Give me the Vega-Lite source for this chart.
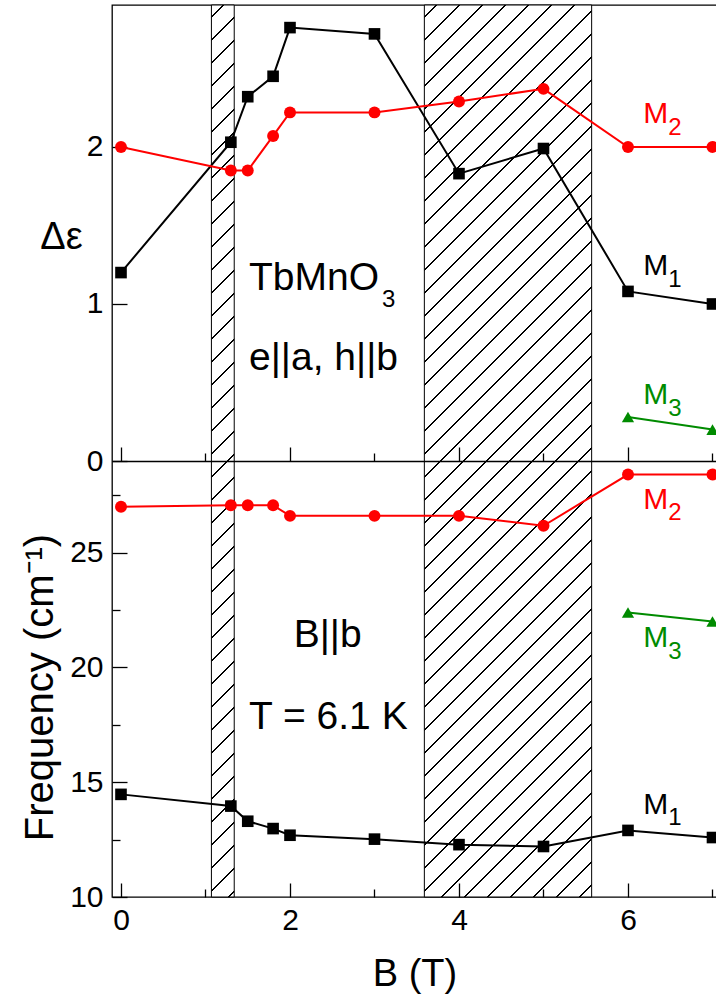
{
  "$schema": "https://vega.github.io/schema/vega-lite/v6.json",
  "autosize": "none",
  "padding": {"left": 112, "top": 5, "right": -1, "bottom": 99},
  "width": 605,
  "height": 892,
  "background": "white",
  "config": {
    "view": {"stroke": "black", "strokeWidth": 1.3},
    "axis": {"grid": false, "domain": false, "zindex": 1, "tickColor": "black", "tickWidth": 1.3, "labelFont": "Liberation Sans", "labelFontSize": 30, "labelColor": "black", "titleFont": "Liberation Sans", "titleFontSize": 38, "titleFontWeight": "normal", "titleColor": "black"},
    "text": {"font": "Liberation Sans"}
  },
  "resolve": {"scale": {"y": "independent"}, "axis": {"x": "independent", "y": "independent"}},
  "datasets": {
    "pts": [
      {"panel": "eps", "mode": "M1", "B": 0, "value": 1.20},
      {"panel": "eps", "mode": "M1", "B": 1.3, "value": 2.03},
      {"panel": "eps", "mode": "M1", "B": 1.5, "value": 2.32},
      {"panel": "eps", "mode": "M1", "B": 1.8, "value": 2.45},
      {"panel": "eps", "mode": "M1", "B": 2, "value": 2.76},
      {"panel": "eps", "mode": "M1", "B": 3, "value": 2.72},
      {"panel": "eps", "mode": "M1", "B": 4, "value": 1.83},
      {"panel": "eps", "mode": "M1", "B": 5, "value": 1.99},
      {"panel": "eps", "mode": "M1", "B": 6, "value": 1.08},
      {"panel": "eps", "mode": "M1", "B": 7, "value": 1.00},
      {"panel": "eps", "mode": "M2", "B": 0, "value": 2.00},
      {"panel": "eps", "mode": "M2", "B": 1.3, "value": 1.85},
      {"panel": "eps", "mode": "M2", "B": 1.5, "value": 1.85},
      {"panel": "eps", "mode": "M2", "B": 1.8, "value": 2.07},
      {"panel": "eps", "mode": "M2", "B": 2, "value": 2.22},
      {"panel": "eps", "mode": "M2", "B": 3, "value": 2.22},
      {"panel": "eps", "mode": "M2", "B": 4, "value": 2.29},
      {"panel": "eps", "mode": "M2", "B": 5, "value": 2.37},
      {"panel": "eps", "mode": "M2", "B": 6, "value": 2.00},
      {"panel": "eps", "mode": "M2", "B": 7, "value": 2.00},
      {"panel": "eps", "mode": "M3", "B": 6, "value": 0.28},
      {"panel": "eps", "mode": "M3", "B": 7, "value": 0.20},
      {"panel": "freq", "mode": "M1", "B": 0, "value": 14.47},
      {"panel": "freq", "mode": "M1", "B": 1.3, "value": 13.96},
      {"panel": "freq", "mode": "M1", "B": 1.5, "value": 13.30},
      {"panel": "freq", "mode": "M1", "B": 1.8, "value": 12.98},
      {"panel": "freq", "mode": "M1", "B": 2, "value": 12.69},
      {"panel": "freq", "mode": "M1", "B": 3, "value": 12.52},
      {"panel": "freq", "mode": "M1", "B": 4, "value": 12.28},
      {"panel": "freq", "mode": "M1", "B": 5, "value": 12.20},
      {"panel": "freq", "mode": "M1", "B": 6, "value": 12.90},
      {"panel": "freq", "mode": "M1", "B": 7, "value": 12.59},
      {"panel": "freq", "mode": "M2", "B": 0, "value": 27.00},
      {"panel": "freq", "mode": "M2", "B": 1.3, "value": 27.06},
      {"panel": "freq", "mode": "M2", "B": 1.5, "value": 27.06},
      {"panel": "freq", "mode": "M2", "B": 1.8, "value": 27.06},
      {"panel": "freq", "mode": "M2", "B": 2, "value": 26.60},
      {"panel": "freq", "mode": "M2", "B": 3, "value": 26.60},
      {"panel": "freq", "mode": "M2", "B": 4, "value": 26.60},
      {"panel": "freq", "mode": "M2", "B": 5, "value": 26.17},
      {"panel": "freq", "mode": "M2", "B": 6, "value": 28.40},
      {"panel": "freq", "mode": "M2", "B": 7, "value": 28.40},
      {"panel": "freq", "mode": "M3", "B": 6, "value": 22.39},
      {"panel": "freq", "mode": "M3", "B": 7, "value": 22.00}
    ],
    "regions": [
      {"zone": "narrow", "start": 1.07, "end": 1.34},
      {"zone": "wide", "start": 3.59, "end": 5.57}
    ],
    "notes": [
      {"panel": "eps", "kind": "big", "mode": "note", "B": 1.515, "value": 1.089, "text": "TbMnO"},
      {"panel": "eps", "kind": "sub", "mode": "note", "B": 3.089, "value": 0.981, "text": "3"},
      {"panel": "eps", "kind": "big", "mode": "note", "B": 1.515, "value": 0.580, "text": "e||a, h||b"},
      {"panel": "eps", "kind": "m", "mode": "M2", "B": 6.181, "value": 2.151, "text": "M"},
      {"panel": "eps", "kind": "sub", "mode": "M2", "B": 6.475, "value": 2.076, "text": "2"},
      {"panel": "eps", "kind": "m", "mode": "M1", "B": 6.181, "value": 1.185, "text": "M"},
      {"panel": "eps", "kind": "sub", "mode": "M1", "B": 6.475, "value": 1.110, "text": "1"},
      {"panel": "eps", "kind": "m", "mode": "M3", "B": 6.181, "value": 0.363, "text": "M"},
      {"panel": "eps", "kind": "sub", "mode": "M3", "B": 6.475, "value": 0.287, "text": "3"},
      {"panel": "freq", "kind": "big", "mode": "note", "B": 2.044, "value": 20.89, "text": "B||b"},
      {"panel": "freq", "kind": "big", "mode": "note", "B": 1.515, "value": 17.33, "text": "T = 6.1 K"},
      {"panel": "freq", "kind": "m", "mode": "M2", "B": 6.181, "value": 26.92, "text": "M"},
      {"panel": "freq", "kind": "sub", "mode": "M2", "B": 6.475, "value": 26.41, "text": "2"},
      {"panel": "freq", "kind": "m", "mode": "M3", "B": 6.181, "value": 20.89, "text": "M"},
      {"panel": "freq", "kind": "sub", "mode": "M3", "B": 6.475, "value": 20.38, "text": "3"},
      {"panel": "freq", "kind": "m", "mode": "M1", "B": 6.181, "value": 13.63, "text": "M"},
      {"panel": "freq", "kind": "sub", "mode": "M1", "B": 6.475, "value": 13.12, "text": "1"}
    ]
  },
  "layer": [
    {
      "data": {"name": "regions"},
      "transform": [{"filter": "datum.zone === 'narrow'"}],
      "mark": {"type": "rect", "stroke": "black", "strokeWidth": 1, "fill": {"gradient": "linear", "x1": 0, "y1": 0, "x2": 0.03293, "y2": 1.2884, "stops": [{"offset":0.01,"color":"#fff"},{"offset":0.01,"color":"#000"},{"offset":0.0115,"color":"#000"},{"offset":0.0115,"color":"#fff"},{"offset":0.03,"color":"#fff"},{"offset":0.03,"color":"#000"},{"offset":0.0315,"color":"#000"},{"offset":0.0315,"color":"#fff"},{"offset":0.05,"color":"#fff"},{"offset":0.05,"color":"#000"},{"offset":0.0515,"color":"#000"},{"offset":0.0515,"color":"#fff"},{"offset":0.07,"color":"#fff"},{"offset":0.07,"color":"#000"},{"offset":0.0715,"color":"#000"},{"offset":0.0715,"color":"#fff"},{"offset":0.09,"color":"#fff"},{"offset":0.09,"color":"#000"},{"offset":0.0915,"color":"#000"},{"offset":0.0915,"color":"#fff"},{"offset":0.11,"color":"#fff"},{"offset":0.11,"color":"#000"},{"offset":0.1115,"color":"#000"},{"offset":0.1115,"color":"#fff"},{"offset":0.13,"color":"#fff"},{"offset":0.13,"color":"#000"},{"offset":0.1315,"color":"#000"},{"offset":0.1315,"color":"#fff"},{"offset":0.15,"color":"#fff"},{"offset":0.15,"color":"#000"},{"offset":0.1515,"color":"#000"},{"offset":0.1515,"color":"#fff"},{"offset":0.17,"color":"#fff"},{"offset":0.17,"color":"#000"},{"offset":0.1715,"color":"#000"},{"offset":0.1715,"color":"#fff"},{"offset":0.19,"color":"#fff"},{"offset":0.19,"color":"#000"},{"offset":0.1915,"color":"#000"},{"offset":0.1915,"color":"#fff"},{"offset":0.21,"color":"#fff"},{"offset":0.21,"color":"#000"},{"offset":0.2115,"color":"#000"},{"offset":0.2115,"color":"#fff"},{"offset":0.23,"color":"#fff"},{"offset":0.23,"color":"#000"},{"offset":0.2315,"color":"#000"},{"offset":0.2315,"color":"#fff"},{"offset":0.25,"color":"#fff"},{"offset":0.25,"color":"#000"},{"offset":0.2515,"color":"#000"},{"offset":0.2515,"color":"#fff"},{"offset":0.27,"color":"#fff"},{"offset":0.27,"color":"#000"},{"offset":0.2715,"color":"#000"},{"offset":0.2715,"color":"#fff"},{"offset":0.29,"color":"#fff"},{"offset":0.29,"color":"#000"},{"offset":0.2915,"color":"#000"},{"offset":0.2915,"color":"#fff"},{"offset":0.31,"color":"#fff"},{"offset":0.31,"color":"#000"},{"offset":0.3115,"color":"#000"},{"offset":0.3115,"color":"#fff"},{"offset":0.33,"color":"#fff"},{"offset":0.33,"color":"#000"},{"offset":0.3315,"color":"#000"},{"offset":0.3315,"color":"#fff"},{"offset":0.35,"color":"#fff"},{"offset":0.35,"color":"#000"},{"offset":0.3515,"color":"#000"},{"offset":0.3515,"color":"#fff"},{"offset":0.37,"color":"#fff"},{"offset":0.37,"color":"#000"},{"offset":0.3715,"color":"#000"},{"offset":0.3715,"color":"#fff"},{"offset":0.39,"color":"#fff"},{"offset":0.39,"color":"#000"},{"offset":0.3915,"color":"#000"},{"offset":0.3915,"color":"#fff"},{"offset":0.41,"color":"#fff"},{"offset":0.41,"color":"#000"},{"offset":0.4115,"color":"#000"},{"offset":0.4115,"color":"#fff"},{"offset":0.43,"color":"#fff"},{"offset":0.43,"color":"#000"},{"offset":0.4315,"color":"#000"},{"offset":0.4315,"color":"#fff"},{"offset":0.45,"color":"#fff"},{"offset":0.45,"color":"#000"},{"offset":0.4515,"color":"#000"},{"offset":0.4515,"color":"#fff"},{"offset":0.47,"color":"#fff"},{"offset":0.47,"color":"#000"},{"offset":0.4715,"color":"#000"},{"offset":0.4715,"color":"#fff"},{"offset":0.49,"color":"#fff"},{"offset":0.49,"color":"#000"},{"offset":0.4915,"color":"#000"},{"offset":0.4915,"color":"#fff"},{"offset":0.51,"color":"#fff"},{"offset":0.51,"color":"#000"},{"offset":0.5115,"color":"#000"},{"offset":0.5115,"color":"#fff"},{"offset":0.53,"color":"#fff"},{"offset":0.53,"color":"#000"},{"offset":0.5315,"color":"#000"},{"offset":0.5315,"color":"#fff"},{"offset":0.55,"color":"#fff"},{"offset":0.55,"color":"#000"},{"offset":0.5515,"color":"#000"},{"offset":0.5515,"color":"#fff"},{"offset":0.57,"color":"#fff"},{"offset":0.57,"color":"#000"},{"offset":0.5715,"color":"#000"},{"offset":0.5715,"color":"#fff"},{"offset":0.59,"color":"#fff"},{"offset":0.59,"color":"#000"},{"offset":0.5915,"color":"#000"},{"offset":0.5915,"color":"#fff"},{"offset":0.61,"color":"#fff"},{"offset":0.61,"color":"#000"},{"offset":0.6115,"color":"#000"},{"offset":0.6115,"color":"#fff"},{"offset":0.63,"color":"#fff"},{"offset":0.63,"color":"#000"},{"offset":0.6315,"color":"#000"},{"offset":0.6315,"color":"#fff"},{"offset":0.65,"color":"#fff"},{"offset":0.65,"color":"#000"},{"offset":0.6515,"color":"#000"},{"offset":0.6515,"color":"#fff"},{"offset":0.67,"color":"#fff"},{"offset":0.67,"color":"#000"},{"offset":0.6715,"color":"#000"},{"offset":0.6715,"color":"#fff"},{"offset":0.69,"color":"#fff"},{"offset":0.69,"color":"#000"},{"offset":0.6915,"color":"#000"},{"offset":0.6915,"color":"#fff"},{"offset":0.71,"color":"#fff"},{"offset":0.71,"color":"#000"},{"offset":0.7115,"color":"#000"},{"offset":0.7115,"color":"#fff"},{"offset":0.73,"color":"#fff"},{"offset":0.73,"color":"#000"},{"offset":0.7315,"color":"#000"},{"offset":0.7315,"color":"#fff"},{"offset":0.75,"color":"#fff"},{"offset":0.75,"color":"#000"},{"offset":0.7515,"color":"#000"},{"offset":0.7515,"color":"#fff"},{"offset":0.77,"color":"#fff"},{"offset":0.77,"color":"#000"},{"offset":0.7715,"color":"#000"},{"offset":0.7715,"color":"#fff"},{"offset":0.79,"color":"#fff"},{"offset":0.79,"color":"#000"},{"offset":0.7915,"color":"#000"},{"offset":0.7915,"color":"#fff"}]}},
      "encoding": {
        "x": {"field": "start", "type": "quantitative", "scale": {"domain": [-0.1065, 7.0534], "nice": false, "zero": false},
          "axis": {"orient": "bottom", "zindex": 2, "values": [0, 1, 2, 3, 4, 5, 6, 7], "format": "d", "labelExpr": "datum.value % 2 === 0 ? datum.label : ''", "labelPadding": 22, "tickSize": {"condition": {"test": "datum.value % 2 === 0", "value": -14}, "value": -8}, "title": "B (T)", "titleY": 88, "titleBaseline": "alphabetic"}},
        "x2": {"field": "end"}
      }
    },
    {
      "data": {"name": "regions"},
      "transform": [{"filter": "datum.zone === 'wide'"}],
      "mark": {"type": "rect", "stroke": "black", "strokeWidth": 1, "fill": {"gradient": "linear", "x1": 0, "y1": 0, "x2": 0.23359, "y2": 1.24541, "stops": [{"offset":0.01,"color":"#fff"},{"offset":0.01,"color":"#000"},{"offset":0.0115,"color":"#000"},{"offset":0.0115,"color":"#fff"},{"offset":0.03,"color":"#fff"},{"offset":0.03,"color":"#000"},{"offset":0.0315,"color":"#000"},{"offset":0.0315,"color":"#fff"},{"offset":0.05,"color":"#fff"},{"offset":0.05,"color":"#000"},{"offset":0.0515,"color":"#000"},{"offset":0.0515,"color":"#fff"},{"offset":0.07,"color":"#fff"},{"offset":0.07,"color":"#000"},{"offset":0.0715,"color":"#000"},{"offset":0.0715,"color":"#fff"},{"offset":0.09,"color":"#fff"},{"offset":0.09,"color":"#000"},{"offset":0.0915,"color":"#000"},{"offset":0.0915,"color":"#fff"},{"offset":0.11,"color":"#fff"},{"offset":0.11,"color":"#000"},{"offset":0.1115,"color":"#000"},{"offset":0.1115,"color":"#fff"},{"offset":0.13,"color":"#fff"},{"offset":0.13,"color":"#000"},{"offset":0.1315,"color":"#000"},{"offset":0.1315,"color":"#fff"},{"offset":0.15,"color":"#fff"},{"offset":0.15,"color":"#000"},{"offset":0.1515,"color":"#000"},{"offset":0.1515,"color":"#fff"},{"offset":0.17,"color":"#fff"},{"offset":0.17,"color":"#000"},{"offset":0.1715,"color":"#000"},{"offset":0.1715,"color":"#fff"},{"offset":0.19,"color":"#fff"},{"offset":0.19,"color":"#000"},{"offset":0.1915,"color":"#000"},{"offset":0.1915,"color":"#fff"},{"offset":0.21,"color":"#fff"},{"offset":0.21,"color":"#000"},{"offset":0.2115,"color":"#000"},{"offset":0.2115,"color":"#fff"},{"offset":0.23,"color":"#fff"},{"offset":0.23,"color":"#000"},{"offset":0.2315,"color":"#000"},{"offset":0.2315,"color":"#fff"},{"offset":0.25,"color":"#fff"},{"offset":0.25,"color":"#000"},{"offset":0.2515,"color":"#000"},{"offset":0.2515,"color":"#fff"},{"offset":0.27,"color":"#fff"},{"offset":0.27,"color":"#000"},{"offset":0.2715,"color":"#000"},{"offset":0.2715,"color":"#fff"},{"offset":0.29,"color":"#fff"},{"offset":0.29,"color":"#000"},{"offset":0.2915,"color":"#000"},{"offset":0.2915,"color":"#fff"},{"offset":0.31,"color":"#fff"},{"offset":0.31,"color":"#000"},{"offset":0.3115,"color":"#000"},{"offset":0.3115,"color":"#fff"},{"offset":0.33,"color":"#fff"},{"offset":0.33,"color":"#000"},{"offset":0.3315,"color":"#000"},{"offset":0.3315,"color":"#fff"},{"offset":0.35,"color":"#fff"},{"offset":0.35,"color":"#000"},{"offset":0.3515,"color":"#000"},{"offset":0.3515,"color":"#fff"},{"offset":0.37,"color":"#fff"},{"offset":0.37,"color":"#000"},{"offset":0.3715,"color":"#000"},{"offset":0.3715,"color":"#fff"},{"offset":0.39,"color":"#fff"},{"offset":0.39,"color":"#000"},{"offset":0.3915,"color":"#000"},{"offset":0.3915,"color":"#fff"},{"offset":0.41,"color":"#fff"},{"offset":0.41,"color":"#000"},{"offset":0.4115,"color":"#000"},{"offset":0.4115,"color":"#fff"},{"offset":0.43,"color":"#fff"},{"offset":0.43,"color":"#000"},{"offset":0.4315,"color":"#000"},{"offset":0.4315,"color":"#fff"},{"offset":0.45,"color":"#fff"},{"offset":0.45,"color":"#000"},{"offset":0.4515,"color":"#000"},{"offset":0.4515,"color":"#fff"},{"offset":0.47,"color":"#fff"},{"offset":0.47,"color":"#000"},{"offset":0.4715,"color":"#000"},{"offset":0.4715,"color":"#fff"},{"offset":0.49,"color":"#fff"},{"offset":0.49,"color":"#000"},{"offset":0.4915,"color":"#000"},{"offset":0.4915,"color":"#fff"},{"offset":0.51,"color":"#fff"},{"offset":0.51,"color":"#000"},{"offset":0.5115,"color":"#000"},{"offset":0.5115,"color":"#fff"},{"offset":0.53,"color":"#fff"},{"offset":0.53,"color":"#000"},{"offset":0.5315,"color":"#000"},{"offset":0.5315,"color":"#fff"},{"offset":0.55,"color":"#fff"},{"offset":0.55,"color":"#000"},{"offset":0.5515,"color":"#000"},{"offset":0.5515,"color":"#fff"},{"offset":0.57,"color":"#fff"},{"offset":0.57,"color":"#000"},{"offset":0.5715,"color":"#000"},{"offset":0.5715,"color":"#fff"},{"offset":0.59,"color":"#fff"},{"offset":0.59,"color":"#000"},{"offset":0.5915,"color":"#000"},{"offset":0.5915,"color":"#fff"},{"offset":0.61,"color":"#fff"},{"offset":0.61,"color":"#000"},{"offset":0.6115,"color":"#000"},{"offset":0.6115,"color":"#fff"},{"offset":0.63,"color":"#fff"},{"offset":0.63,"color":"#000"},{"offset":0.6315,"color":"#000"},{"offset":0.6315,"color":"#fff"},{"offset":0.65,"color":"#fff"},{"offset":0.65,"color":"#000"},{"offset":0.6515,"color":"#000"},{"offset":0.6515,"color":"#fff"},{"offset":0.67,"color":"#fff"},{"offset":0.67,"color":"#000"},{"offset":0.6715,"color":"#000"},{"offset":0.6715,"color":"#fff"},{"offset":0.69,"color":"#fff"},{"offset":0.69,"color":"#000"},{"offset":0.6915,"color":"#000"},{"offset":0.6915,"color":"#fff"},{"offset":0.71,"color":"#fff"},{"offset":0.71,"color":"#000"},{"offset":0.7115,"color":"#000"},{"offset":0.7115,"color":"#fff"},{"offset":0.73,"color":"#fff"},{"offset":0.73,"color":"#000"},{"offset":0.7315,"color":"#000"},{"offset":0.7315,"color":"#fff"},{"offset":0.75,"color":"#fff"},{"offset":0.75,"color":"#000"},{"offset":0.7515,"color":"#000"},{"offset":0.7515,"color":"#fff"},{"offset":0.77,"color":"#fff"},{"offset":0.77,"color":"#000"},{"offset":0.7715,"color":"#000"},{"offset":0.7715,"color":"#fff"},{"offset":0.79,"color":"#fff"},{"offset":0.79,"color":"#000"},{"offset":0.7915,"color":"#000"},{"offset":0.7915,"color":"#fff"},{"offset":0.81,"color":"#fff"},{"offset":0.81,"color":"#000"},{"offset":0.8115,"color":"#000"},{"offset":0.8115,"color":"#fff"},{"offset":0.83,"color":"#fff"},{"offset":0.83,"color":"#000"},{"offset":0.8315,"color":"#000"},{"offset":0.8315,"color":"#fff"},{"offset":0.85,"color":"#fff"},{"offset":0.85,"color":"#000"},{"offset":0.8515,"color":"#000"},{"offset":0.8515,"color":"#fff"},{"offset":0.87,"color":"#fff"},{"offset":0.87,"color":"#000"},{"offset":0.8715,"color":"#000"},{"offset":0.8715,"color":"#fff"},{"offset":0.89,"color":"#fff"},{"offset":0.89,"color":"#000"},{"offset":0.8915,"color":"#000"},{"offset":0.8915,"color":"#fff"},{"offset":0.91,"color":"#fff"},{"offset":0.91,"color":"#000"},{"offset":0.9115,"color":"#000"},{"offset":0.9115,"color":"#fff"}]}},
      "encoding": {
        "x": {"field": "start", "type": "quantitative", "scale": {"domain": [-0.1065, 7.0534], "nice": false, "zero": false},
          "axis": {"orient": "bottom", "zindex": 2, "offset": -436, "values": [0, 1, 2, 3, 4, 5, 6, 7], "labels": false, "title": null, "domain": true, "domainColor": "black", "domainWidth": 1.3, "tickSize": {"condition": {"test": "datum.value % 2 === 0", "value": -14}, "value": -8}}},
        "x2": {"field": "end"}
      }
    },
    {
      "data": {"name": "pts"},
      "transform": [{"filter": "datum.panel === 'eps'"}],
      "mark": {"type": "line", "strokeWidth": 2},
      "encoding": {
        "x": {"field": "B", "type": "quantitative", "scale": {"domain": [-0.1065, 7.0534], "nice": false, "zero": false}, "axis": null},
        "y": {"field": "value", "type": "quantitative", "scale": {"domain": [0, 2.904], "range": [456, 0], "nice": false, "zero": false},
          "axis": {"orient": "left", "values": [0, 0.5, 1, 1.5, 2, 2.5], "format": "d", "labelExpr": "datum.value % 1 === 0 ? datum.label : ''", "tickSize": {"condition": {"test": "datum.value % 1 === 0", "value": -15}, "value": -8}, "labelPadding": 24, "title": "Δε", "titleAngle": 0, "titleX": -51, "titleY": 232, "titleAlign": "center", "titleBaseline": "middle", "titleFontSize": 38}},
        "color": {"field": "mode", "type": "nominal", "scale": {"domain": ["M1", "M2", "M3", "note"], "range": ["#000000", "#ff0000", "#008b00", "#000000"]}, "legend": null}
      }
    },
    {
      "data": {"name": "pts"},
      "transform": [{"filter": "datum.panel === 'eps'"}],
      "mark": {"type": "point", "filled": true, "opacity": 1, "strokeWidth": 0},
      "encoding": {
        "x": {"field": "B", "type": "quantitative", "scale": {"domain": [-0.1065, 7.0534], "nice": false, "zero": false}, "axis": null},
        "y": {"field": "value", "type": "quantitative", "scale": {"domain": [0, 2.904], "range": [456, 0], "nice": false, "zero": false}, "axis": null},
        "color": {"field": "mode", "type": "nominal", "legend": null},
        "shape": {"field": "mode", "type": "nominal", "scale": {"domain": ["M1", "M2", "M3"], "range": ["square", "circle", "triangle-up"]}, "legend": null},
        "size": {"field": "mode", "type": "ordinal", "scale": {"domain": ["M1", "M2", "M3"], "range": [135, 150, 150]}, "legend": null}
      }
    },
    {
      "data": {"name": "notes"},
      "transform": [{"filter": "datum.panel === 'eps' && datum.kind === 'big'"}],
      "mark": {"type": "text", "fontSize": 39, "align": "left", "baseline": "alphabetic"},
      "encoding": {
        "x": {"field": "B", "type": "quantitative", "scale": {"domain": [-0.1065, 7.0534], "nice": false, "zero": false}, "axis": null},
        "y": {"field": "value", "type": "quantitative", "scale": {"domain": [0, 2.904], "range": [456, 0], "nice": false, "zero": false}, "axis": null},
        "text": {"field": "text"},
        "color": {"field": "mode", "type": "nominal", "legend": null}
      }
    },
    {
      "data": {"name": "notes"},
      "transform": [{"filter": "datum.panel === 'eps' && datum.kind === 'm'"}],
      "mark": {"type": "text", "fontSize": 30, "align": "left", "baseline": "alphabetic"},
      "encoding": {
        "x": {"field": "B", "type": "quantitative", "scale": {"domain": [-0.1065, 7.0534], "nice": false, "zero": false}, "axis": null},
        "y": {"field": "value", "type": "quantitative", "scale": {"domain": [0, 2.904], "range": [456, 0], "nice": false, "zero": false}, "axis": null},
        "text": {"field": "text"},
        "color": {"field": "mode", "type": "nominal", "legend": null}
      }
    },
    {
      "data": {"name": "notes"},
      "transform": [{"filter": "datum.panel === 'eps' && datum.kind === 'sub'"}],
      "mark": {"type": "text", "fontSize": 24, "align": "left", "baseline": "alphabetic"},
      "encoding": {
        "x": {"field": "B", "type": "quantitative", "scale": {"domain": [-0.1065, 7.0534], "nice": false, "zero": false}, "axis": null},
        "y": {"field": "value", "type": "quantitative", "scale": {"domain": [0, 2.904], "range": [456, 0], "nice": false, "zero": false}, "axis": null},
        "text": {"field": "text"},
        "color": {"field": "mode", "type": "nominal", "legend": null}
      }
    },
    {
      "data": {"name": "pts"},
      "transform": [{"filter": "datum.panel === 'freq'"}],
      "mark": {"type": "line", "strokeWidth": 2},
      "encoding": {
        "x": {"field": "B", "type": "quantitative", "scale": {"domain": [-0.1065, 7.0534], "nice": false, "zero": false}, "axis": null},
        "y": {"field": "value", "type": "quantitative", "scale": {"domain": [10, 28.99], "range": [892, 456], "nice": false, "zero": false},
          "axis": {"orient": "left", "values": [10, 12.5, 15, 17.5, 20, 22.5, 25, 27.5], "format": "d", "labelExpr": "datum.value % 5 === 0 ? datum.label : ''", "tickSize": {"condition": {"test": "datum.value % 5 === 0", "value": -15}, "value": -8}, "labelPadding": 24, "title": "Frequency (cm⁻¹)", "titleAngle": -90, "titleX": -72, "titleY": 682, "titleAlign": "center", "titleBaseline": "middle", "titleFontSize": 40}},
        "color": {"field": "mode", "type": "nominal", "legend": null}
      }
    },
    {
      "data": {"name": "pts"},
      "transform": [{"filter": "datum.panel === 'freq'"}],
      "mark": {"type": "point", "filled": true, "opacity": 1, "strokeWidth": 0},
      "encoding": {
        "x": {"field": "B", "type": "quantitative", "scale": {"domain": [-0.1065, 7.0534], "nice": false, "zero": false}, "axis": null},
        "y": {"field": "value", "type": "quantitative", "scale": {"domain": [10, 28.99], "range": [892, 456], "nice": false, "zero": false}, "axis": null},
        "color": {"field": "mode", "type": "nominal", "legend": null},
        "shape": {"field": "mode", "type": "nominal", "legend": null},
        "size": {"field": "mode", "type": "ordinal", "legend": null}
      }
    },
    {
      "data": {"name": "notes"},
      "transform": [{"filter": "datum.panel === 'freq' && datum.kind === 'big'"}],
      "mark": {"type": "text", "fontSize": 39, "align": "left", "baseline": "alphabetic"},
      "encoding": {
        "x": {"field": "B", "type": "quantitative", "scale": {"domain": [-0.1065, 7.0534], "nice": false, "zero": false}, "axis": null},
        "y": {"field": "value", "type": "quantitative", "scale": {"domain": [10, 28.99], "range": [892, 456], "nice": false, "zero": false}, "axis": null},
        "text": {"field": "text"},
        "color": {"field": "mode", "type": "nominal", "legend": null}
      }
    },
    {
      "data": {"name": "notes"},
      "transform": [{"filter": "datum.panel === 'freq' && datum.kind === 'm'"}],
      "mark": {"type": "text", "fontSize": 30, "align": "left", "baseline": "alphabetic"},
      "encoding": {
        "x": {"field": "B", "type": "quantitative", "scale": {"domain": [-0.1065, 7.0534], "nice": false, "zero": false}, "axis": null},
        "y": {"field": "value", "type": "quantitative", "scale": {"domain": [10, 28.99], "range": [892, 456], "nice": false, "zero": false}, "axis": null},
        "text": {"field": "text"},
        "color": {"field": "mode", "type": "nominal", "legend": null}
      }
    },
    {
      "data": {"name": "notes"},
      "transform": [{"filter": "datum.panel === 'freq' && datum.kind === 'sub'"}],
      "mark": {"type": "text", "fontSize": 24, "align": "left", "baseline": "alphabetic"},
      "encoding": {
        "x": {"field": "B", "type": "quantitative", "scale": {"domain": [-0.1065, 7.0534], "nice": false, "zero": false}, "axis": null},
        "y": {"field": "value", "type": "quantitative", "scale": {"domain": [10, 28.99], "range": [892, 456], "nice": false, "zero": false}, "axis": null},
        "text": {"field": "text"},
        "color": {"field": "mode", "type": "nominal", "legend": null}
      }
    }
  ]
}
